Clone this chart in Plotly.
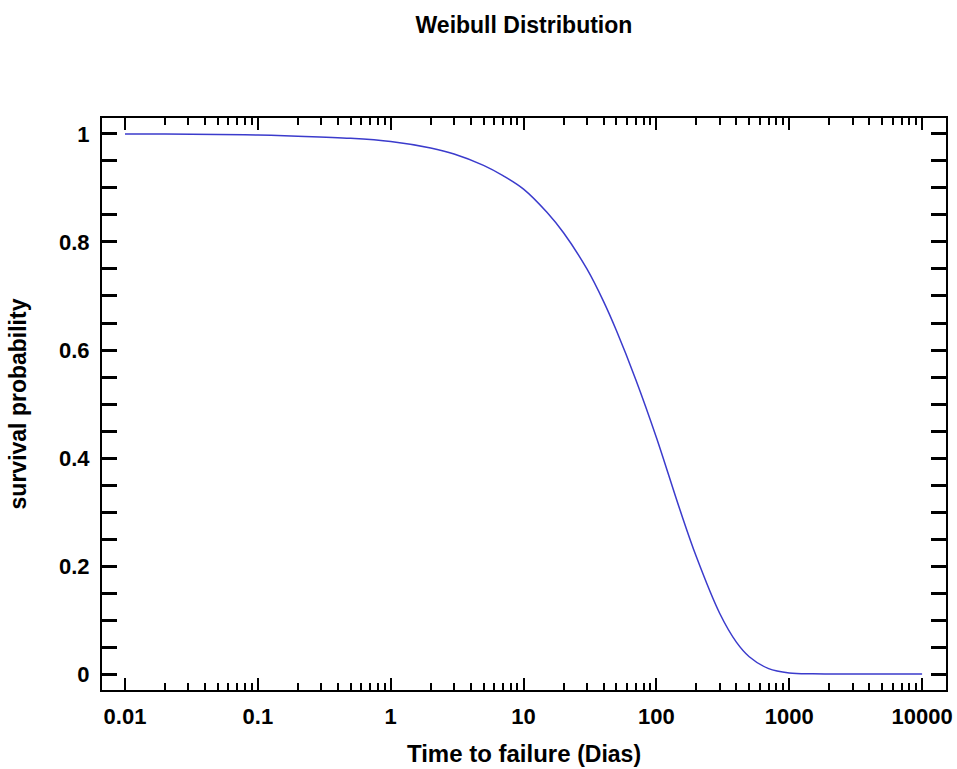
import plotly.graph_objects as go

# Time to failure (Dias) and read survival probability
time_days = [0.01, 0.02, 0.05, 0.1, 0.2, 0.5, 1, 2, 3, 5, 7, 10, 15, 20, 30, 40,
             50, 70, 100, 150, 200, 300, 400, 500, 700, 1000, 1500, 2000, 5000, 10000]
survival = [1.000, 1.000, 0.999, 0.998, 0.996, 0.992, 0.986, 0.974, 0.963, 0.942,
            0.923, 0.898, 0.855, 0.817, 0.750, 0.690, 0.636, 0.545, 0.438, 0.305,
            0.217, 0.112, 0.059, 0.032, 0.010, 0.002, 0.0003, 0.0, 0.0, 0.0]

x_tickvals = [0.01, 0.1, 1, 10, 100, 1000, 10000]
x_ticktext = ["0.01", "0.1", "1", "10", "100", "1000", "10000"]
x_minor_vals = [m * d for d in [0.01, 0.1, 1, 10, 100, 1000] for m in range(2, 10)]
y_tickvals = [0, 0.2, 0.4, 0.6, 0.8, 1]
y_ticktext = ["0", "0.2", "0.4", "0.6", "0.8", "1"]

FONT = "Liberation Sans, Arial, sans-serif"

fig = go.Figure()
fig.add_trace(go.Scatter(x=time_days, y=survival, mode="lines",
                         line=dict(color="#3b3bcc", width=1.5, shape="spline"),
                         showlegend=False, hoverinfo="skip"))

fig.update_layout(
    width=957, height=769,
    margin=dict(l=102, r=11, t=118, b=79),
    paper_bgcolor="white", plot_bgcolor="white",
    font=dict(family=FONT, color="black"),
    title=dict(text="<b>Weibull Distribution</b>", x=0.5475, xanchor="center",
               y=1 - 25 / 769, yanchor="middle",
               font=dict(family=FONT, size=23, color="black")),
)

fig.update_xaxes(
    type="log", range=[-2.173, 4.18], automargin=False,
    tickvals=x_tickvals, ticktext=x_ticktext,
    ticks="inside", ticklen=12, tickwidth=1.5, tickcolor="black",
    minor=dict(ticks="inside", ticklen=7, tickwidth=1.5, tickcolor="black",
               tickvals=x_minor_vals, showgrid=False),
    showline=True, linecolor="black", linewidth=2, mirror="allticks",
    showgrid=False, zeroline=False,
    tickfont=dict(family=FONT, size=22, color="black", weight="bold"),
    ticklabelstandoff=6,
    title=dict(text="<b>Time to failure </b><b><span style='font-size:23px'>(Dias)</span></b>",
               font=dict(family=FONT, size=24, color="black"), standoff=17),
)

fig.update_yaxes(
    range=[-0.0296, 1.0296], automargin=False,
    tickvals=y_tickvals, ticktext=y_ticktext,
    ticks="inside", ticklen=15, tickwidth=2.5, tickcolor="black",
    minor=dict(ticks="inside", ticklen=15, tickwidth=2.5, tickcolor="black",
               dtick=0.05, tick0=0, showgrid=False),
    showline=True, linecolor="black", linewidth=2, mirror="allticks",
    showgrid=False, zeroline=False,
    tickfont=dict(family=FONT, size=22, color="black", weight="bold"),
    ticklabelstandoff=6,
    title=dict(text="<b>survival probability</b>",
               font=dict(family=FONT, size=23, color="black"), standoff=26),
)

fig.write_html("out.html")
